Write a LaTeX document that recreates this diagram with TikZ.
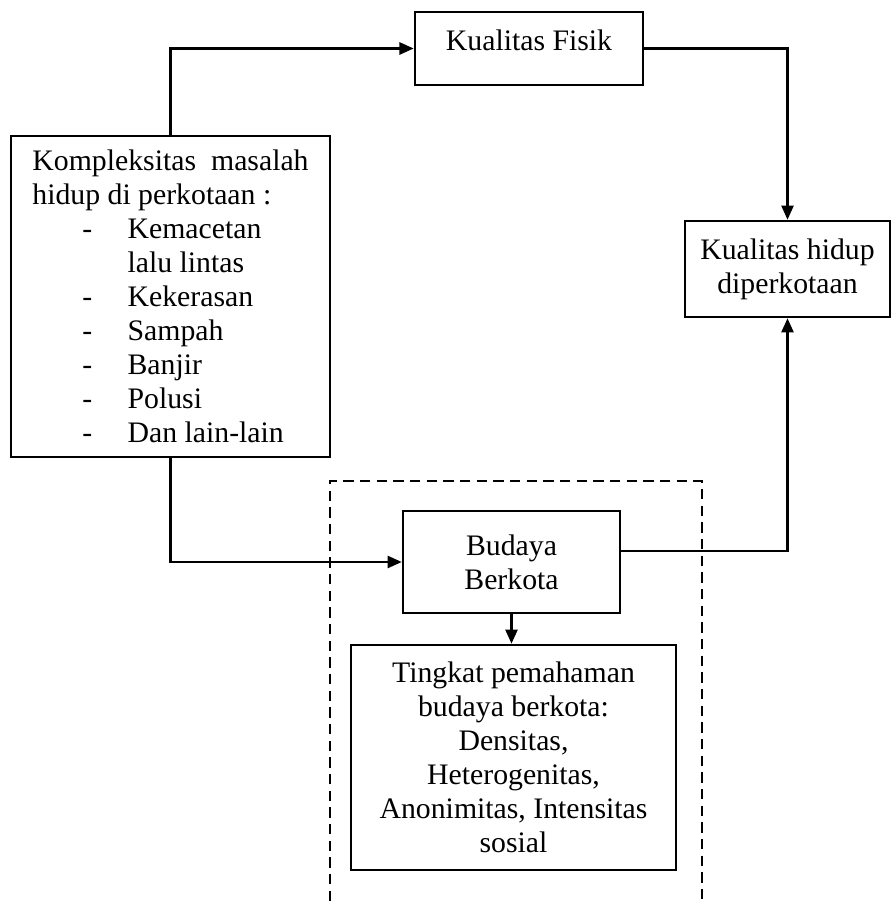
\documentclass[tikz,border=0pt]{standalone}
\usepackage{fontspec}
\setmainfont{Liberation Serif}
\usetikzlibrary{arrows.meta}
\newcommand{\butir}[1]{\hspace*{21pt}\makebox[19pt][l]{-}#1}
\begin{document}
\begin{tikzpicture}[x=0.42pt, y=-0.42pt, line width=1pt, >={Triangle[length=6pt,width=5pt]},box node/.style={rectangle,draw,line width=1pt,inner sep=0pt,align=center,font=\fontsize{12.5}{14.3}\selectfont}]
\useasboundingbox (0,0) rectangle (893,901);
\begin{scope}
\node[box node,minimum width=134pt,minimum height=134.8pt] (komp) at (170.5,296.5) {\parbox{116pt}{\makebox[116pt][s]{Kompleksitas masalah}\\hidup di perkotaan :\\\butir{Kemacetan}\\\hspace*{40pt}lalu lintas\\\butir{Kekerasan}\\\butir{Sampah}\\\butir{Banjir}\\\butir{Polusi}\\\butir{Dan lain-lain}}};%1
\node[box node,minimum width=95.8pt,minimum height=30.7pt,text depth=7pt] (fisik) at (529,48.5) {Kualitas Fisik};%2
\node[box node,minimum width=86.1pt,minimum height=40.3pt] (hidup) at (787.5,269) {Kualitas hidup\\diperkotaan};%3
\node[box node,minimum width=91.1pt,minimum height=42.8pt] (budaya) at (511.5,562) {Budaya\\Berkota};%4
\node[box node,minimum width=136.5pt,minimum height=94.5pt] (tingkat) at (513.5,757.5) {Tingkat pemahaman\\budaya berkota:\\Densitas,\\Heterogenitas,\\Anonimitas, Intensitas\\sosial};%5
\end{scope}
%\draw[dashed] frame
\draw[line width=1.2pt,dash pattern=on 4.4pt off 2.6pt] (330,901) |- (702,481) -- (702,901);
\begin{scope}[every path/.style={draw=black,line width=1.2pt}]
\draw[->] (komp.north) |- (fisik.west);
\draw[->] (fisik.east) -| (hidup.north);
\draw[->] (komp.south) |- (budaya.west);
\draw[->] ([yshift=4.6pt]budaya.east) -| (hidup.south);
\draw[->] (budaya.south) -- (budaya.south |- tingkat.north);
\end{scope}
\end{tikzpicture}
\end{document}
